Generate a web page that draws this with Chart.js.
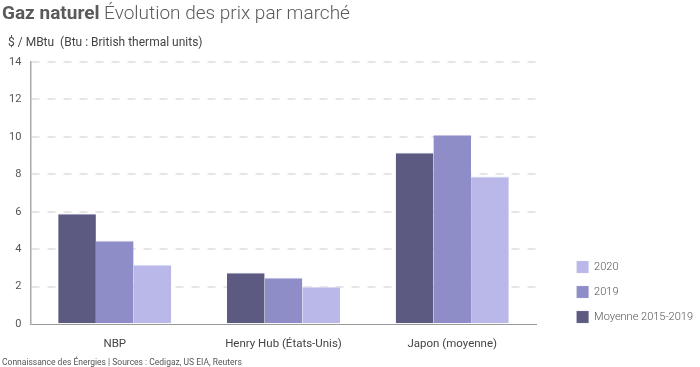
<!DOCTYPE html>
<html>
<head>
<meta charset="utf-8">
<script src="https://cdn.jsdelivr.net/npm/chart.js@4/dist/chart.umd.min.js"></script>
<style>
  body { margin: 0; background: #fff; font-family: Roboto, sans-serif; }
  #wrap { position: relative; width: 700px; height: 367px; }
  #chart { position: absolute; left: 0; top: 0; }
  .title { position: absolute; left: 2px; top: 1px; font-size: 19px; color: #5a5a5a; font-weight: 300; white-space: nowrap; }
  .title b { font-weight: 700; }
  .unit { position: absolute; left: 8px; top: 35px; font-size: 12px; color: #444; white-space: pre; }
  .foot { position: absolute; left: 2px; top: 357px; font-size: 8.5px; color: #555; white-space: nowrap; }
</style>
</head>
<body>
<div id="wrap">
  <canvas id="chart" width="700" height="367"></canvas>
  <div class="title"><b>Gaz naturel</b> Évolution des prix par marché</div>
  <div class="unit">$ / MBtu  (Btu : British thermal units)</div>
  <div class="foot">Connaissance des Énergies | Sources : Cedigaz, US EIA, Reuters</div>
</div>
<script>
// prix du gaz naturel, $ / MBtu
var categories = ['NBP', 'Henry Hub (États-Unis)', 'Japon (moyenne)'];
var moyenne = [5.9, 2.75, 9.15];
var val2019 = [4.45, 2.48, 10.1];
var val2020 = [3.17, 2.0, 7.88];
var yTicks = [0, 2, 4, 6, 8, 10, 12, 14];

// décalage de la légende (px)
var LEGEND_DX = 27;
var LEGEND_DY = -20;

var legendShift = {
  id: 'legendShift',
  afterLayout: function(chart) {
    var l = chart.legend;
    if (!l) return;
    l.left += LEGEND_DX; l.right += LEGEND_DX;
    l.top += LEGEND_DY; l.bottom += LEGEND_DY;
  }
};

function bar(label, data, color, top) {
  return {
    label: label,
    data: data,
    backgroundColor: color,
    borderColor: top,
    borderWidth: {top: 1, left: 0, right: 0, bottom: 0},
    borderSkipped: false
  };
}

new Chart(document.getElementById('chart'), {
  type: 'bar',
  data: {
    labels: categories,
    datasets: [
      bar('Moyenne 2015-2019', moyenne, '#5c5a81', '#a3a2bd'),
      bar('2019', val2019, '#8f8dc7', '#c3c2e4'),
      bar('2020', val2020, '#b9b8e8', '#dcdcf5')
    ]
  },
  plugins: [legendShift],
  options: {
    responsive: false,
    animation: false,
    layout: { padding: { top: 62, left: 0, right: 24, bottom: 11 } },
    datasets: { bar: { barPercentage: 1, categoryPercentage: 0.67 } },
    scales: {
      x: {
        grid: { display: false },
        border: { display: true, color: '#999', width: 1 },
        ticks: { color: '#444', font: { family: 'Roboto', size: 11.5 }, padding: 5 }
      },
      y: {
        min: 0,
        max: 14,
        afterBuildTicks: function(axis) {
          axis.ticks = yTicks.map(function(v) { return {value: v}; });
        },
        grid: {
          color: function(ctx) { return ctx.tick && ctx.tick.value === 0 ? 'rgba(0,0,0,0)' : '#e6e6e6'; },
          lineWidth: 2,
          drawTicks: false
        },
        border: { display: true, color: '#aaa', width: 1.5, dash: [8, 8] },
        ticks: { color: '#555', font: { family: 'Roboto', size: 11 }, padding: 9 }
      }
    },
    plugins: {
      legend: {
        position: 'right',
        align: 'end',
        reverse: true,
        labels: {
          boxWidth: 12,
          boxHeight: 12,
          padding: 13,
          color: '#555',
          textAlign: 'left',
          font: { family: 'Roboto', size: 11, weight: '300' }
        }
      },
      tooltip: { enabled: false }
    }
  }
});
</script>
</body>
</html>
